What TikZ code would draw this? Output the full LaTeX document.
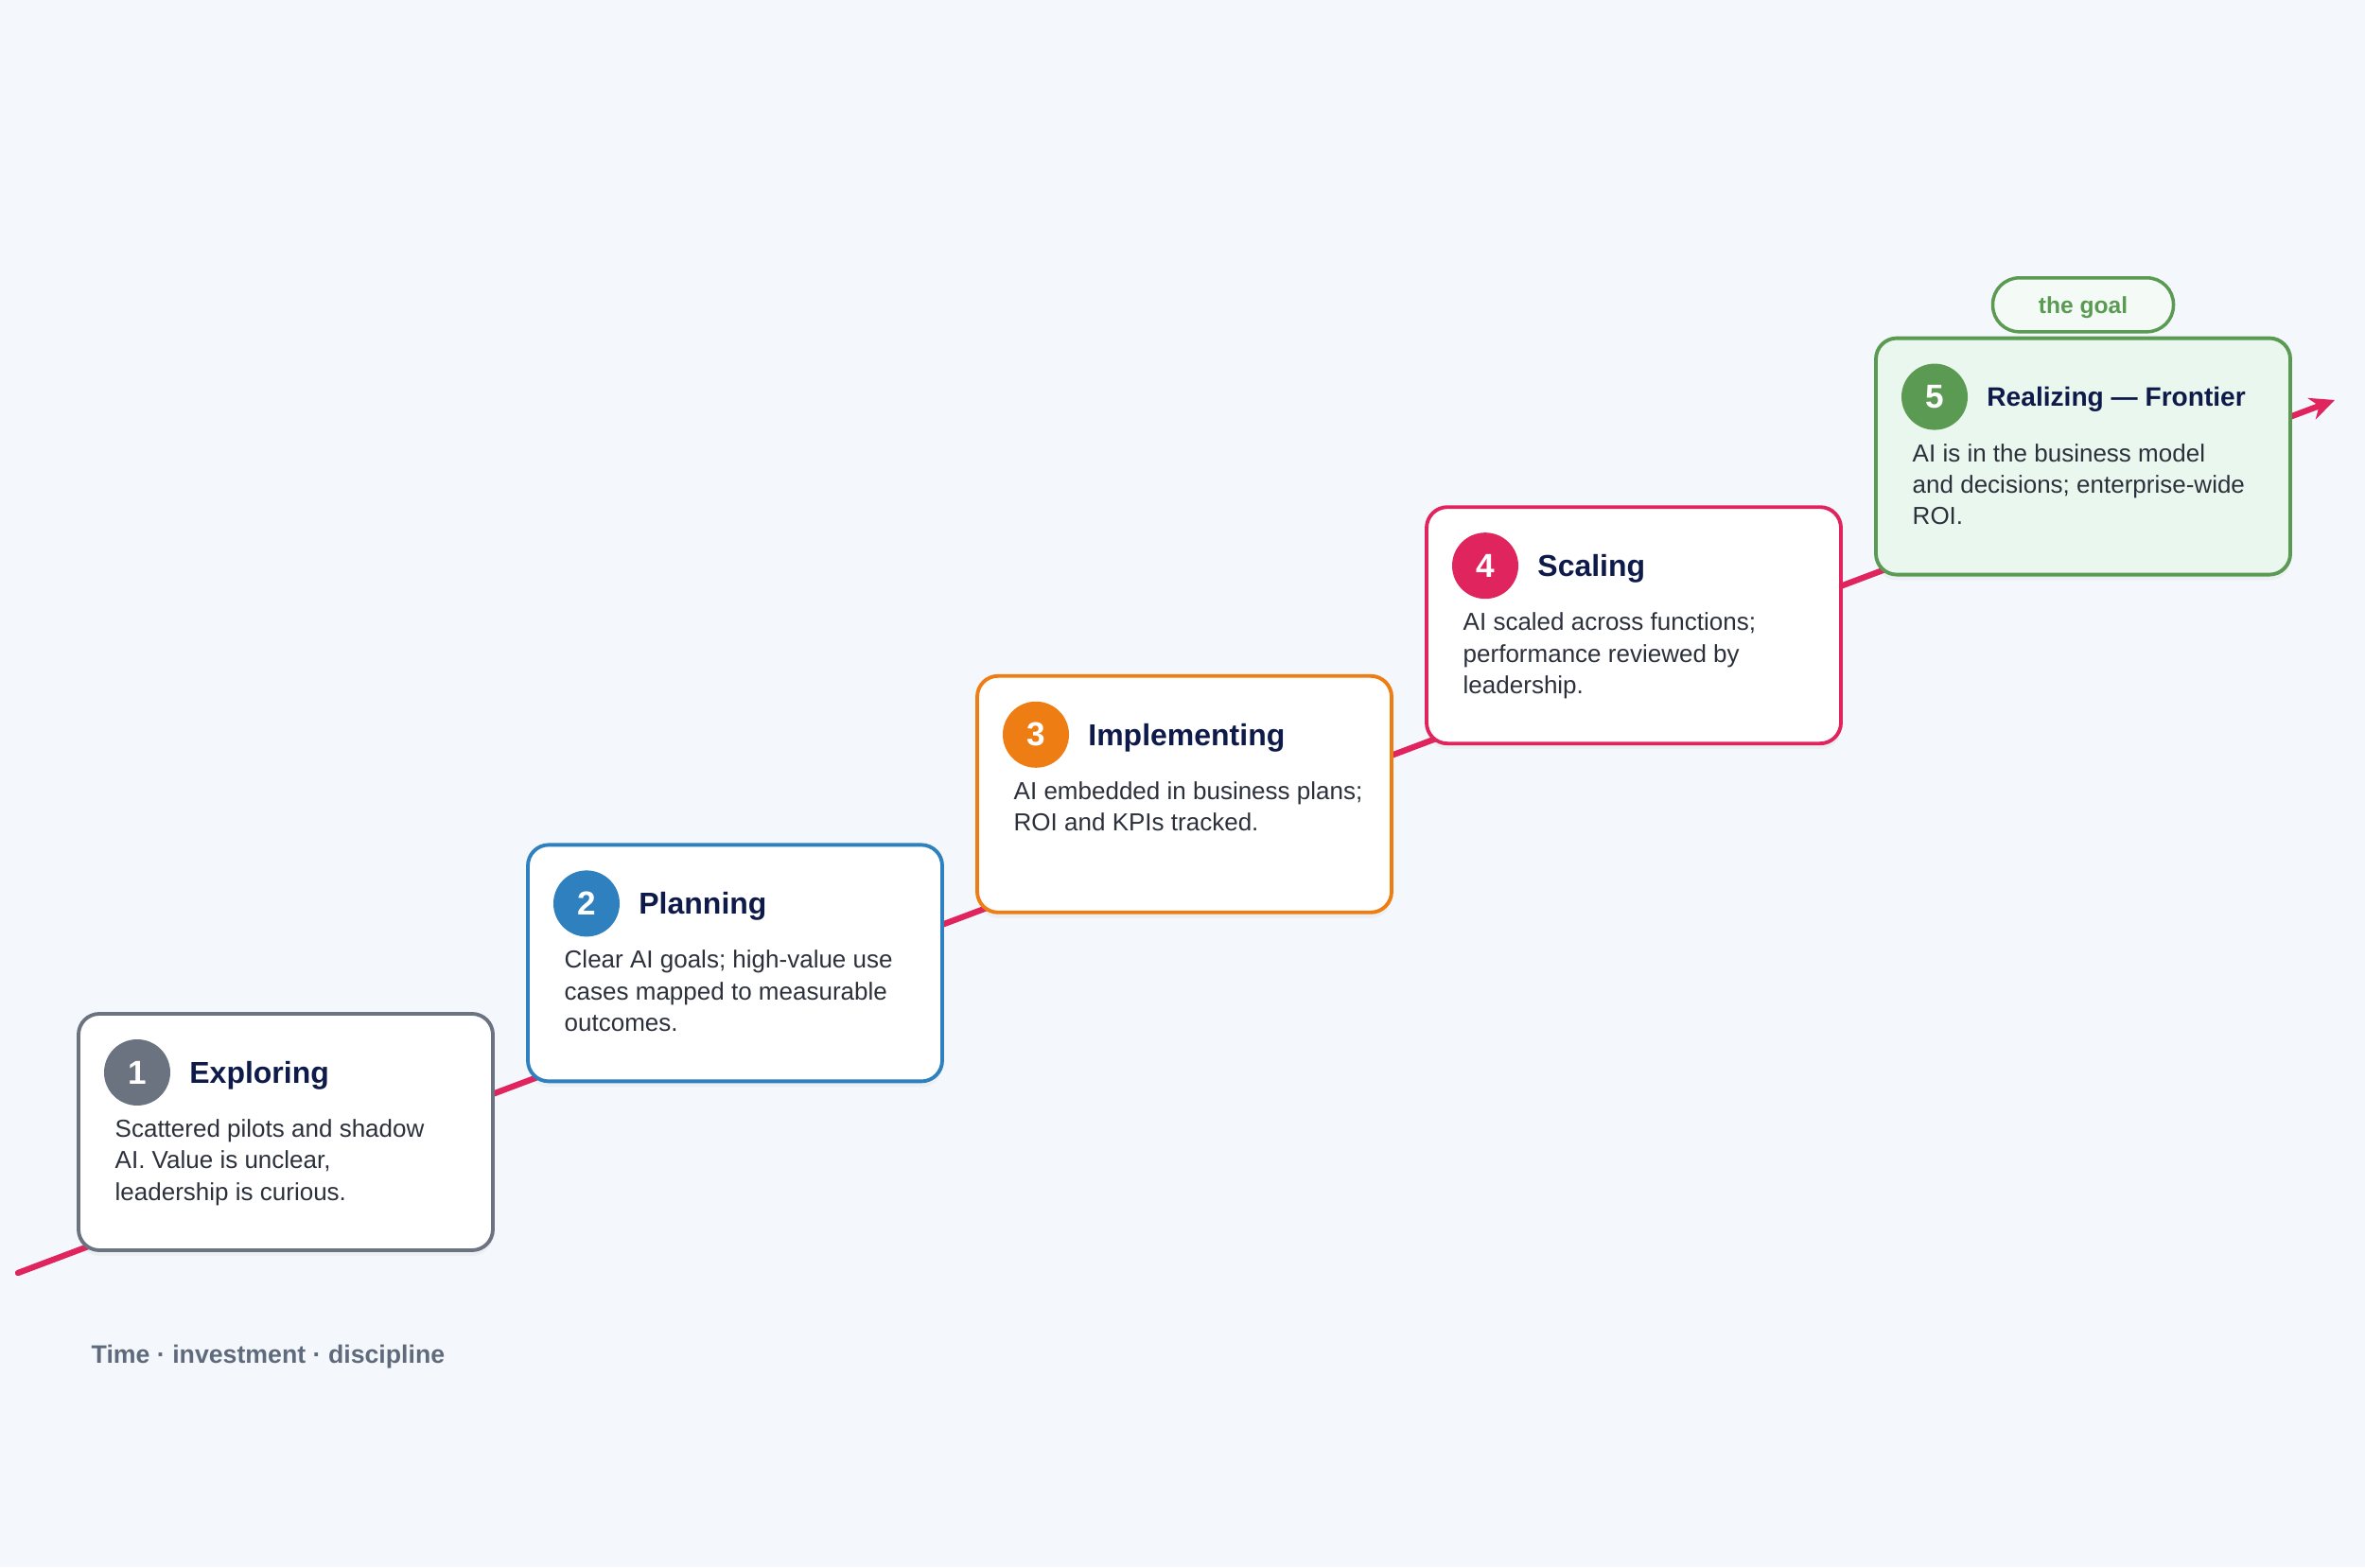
\documentclass[tikz,border=0pt]{standalone}
\usepackage{fontspec}
\setmainfont{Liberation Sans}
\usepackage{xcolor}
\definecolor{pagebg}{HTML}{F4F7FB}
\definecolor{titlenavy}{HTML}{0E1A4A}
\definecolor{bodygray}{HTML}{2B303B}
\definecolor{slate}{HTML}{6B7280}
\definecolor{planblue}{HTML}{2F80BE}
\definecolor{implorange}{HTML}{EE7D14}
\definecolor{scalepink}{HTML}{E0245E}
\definecolor{goalgreen}{HTML}{5A9A52}
\definecolor{goalfill}{HTML}{EAF7EE}
\definecolor{captiongray}{HTML}{5F6B7C}
\usetikzlibrary{
  arrows.meta,
  positioning,
  shadows
}

\begin{document}
\begin{tikzpicture}[
  stage box/.style={draw=#1, line width=1.1pt, fill=white, rounded corners=2.2mm,
    minimum width=4.38cm, minimum height=2.5cm, outer sep=0pt, inner sep=0pt,
    drop shadow={shadow xshift=0pt, shadow yshift=-0.6mm, opacity=0.06}},
  stage num/.style={circle, fill=#1, text=white, inner sep=0pt, minimum size=0.7cm,
    font=\bfseries\fontsize{10}{12}\selectfont},
  stage title/.style={anchor=west, inner sep=0pt, text depth=0pt, text=titlenavy,
    font=\bfseries\fontsize{9.1}{11}\selectfont},
  stage text/.style={anchor=north west, inner sep=0pt, align=left, text=bodygray,
    font=\fontsize{7.4}{9.5}\selectfont},
  goal tag/.style={draw=goalgreen, line width=1pt, fill=goalfill!50!white,
    rounded corners=2.8mm, minimum width=1.91cm, minimum height=0.57cm,
    text depth=0pt, text=goalgreen, font=\bfseries\fontsize{7}{8}\selectfont},
]

% Page background and fixed frame
\fill[pagebg] (0,0) rectangle (25,16.57);
\useasboundingbox (0,0) rectangle (25,16.57);

% Trend line (runs behind the stage cards)
\coordinate (trend start) at (0.19, 3.11);
\coordinate (trend end)   at (24.68, 12.34);
\draw[scalepink, line width=1.8pt, line cap=round,
  -{Stealth[length=2.6mm, width=2.4mm]}]
  (trend start) -- (trend end);

% Stage cards, each one step up and to the right
\node[stage box=slate] (s1) at (3.02, 4.60) {};
\node[stage box=planblue, right=0.37cm of s1, yshift=1.786cm] (s2) {};
\node[stage box=implorange, right=0.37cm of s2, yshift=1.786cm] (s3) {};
\node[stage box=scalepink, right=0.37cm of s3, yshift=1.786cm] (s4) {};
\node[stage box=goalgreen, fill=goalfill, right=0.37cm of s4, yshift=1.786cm] (s5) {};

% Stage 1
\node[stage num=slate] (n1) at ([shift={(0.62,-0.62)}]s1.north west) {1};
\node[stage title, right=0.19cm of n1] (t1) {Exploring};
\node[stage text] (d1) at ([shift={(0.38,-1.11)}]s1.north west)
  {Scattered pilots and shadow\\AI. Value is unclear,\\leadership is curious.};

% Stage 2
\node[stage num=planblue] (n2) at ([shift={(0.62,-0.62)}]s2.north west) {2};
\node[stage title, right=0.19cm of n2] (t2) {Planning};
\node[stage text] (d2) at ([shift={(0.38,-1.11)}]s2.north west)
  {Clear AI goals; high-value use\\cases mapped to measurable\\outcomes.};

% Stage 3
\node[stage num=implorange] (n3) at ([shift={(0.62,-0.62)}]s3.north west) {3};
\node[stage title, right=0.19cm of n3] (t3) {Implementing};
\node[stage text] (d3) at ([shift={(0.38,-1.11)}]s3.north west)
  {AI embedded in business plans;\\ROI and KPIs tracked.};

% Stage 4
\node[stage num=scalepink] (n4) at ([shift={(0.62,-0.62)}]s4.north west) {4};
\node[stage title, right=0.19cm of n4] (t4) {Scaling};
\node[stage text] (d4) at ([shift={(0.38,-1.11)}]s4.north west)
  {AI scaled across functions;\\performance reviewed by\\leadership.};

% Stage 5
\node[stage num=goalgreen] (n5) at ([shift={(0.62,-0.62)}]s5.north west) {5};
\node[stage title, font=\bfseries\fontsize{8}{10}\selectfont, right=0.19cm of n5] (t5)
  {Realizing — Frontier};
\node[stage text] (d5) at ([shift={(0.38,-1.11)}]s5.north west)
  {AI is in the business model\\and decisions; enterprise-wide\\ROI.};

% Goal tag above the last card
\node[goal tag, above=0.05cm of s5] (goal) {the goal};

% Caption
\node[anchor=west, inner sep=0pt, text=captiongray,
  font=\bfseries\fontsize{7.6}{9}\selectfont] (caption) at (0.96, 2.22)
  {Time · investment · discipline};

\end{tikzpicture}
\end{document}
